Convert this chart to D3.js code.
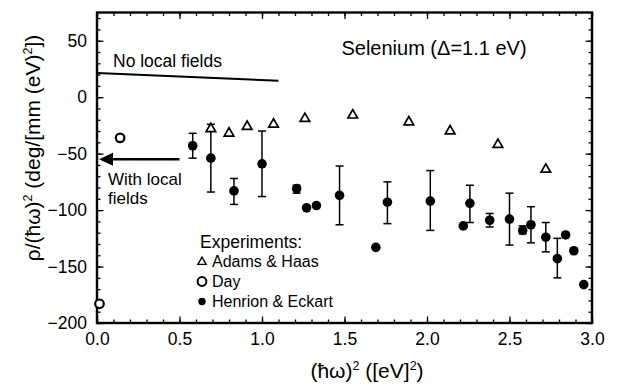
<!DOCTYPE html>
<html>
<head>
<meta charset="utf-8">
<script src="https://cdn.jsdelivr.net/npm/d3@7"></script>
<style>
  body { margin: 0; background: #fff; }
  svg { font-family: "Liberation Sans", Arial, Helvetica, sans-serif; }
</style>
</head>
<body>
<div id="chart"></div>
<script>
// Adams & Haas (open triangles)
const adamsX = [0.69, 0.80, 0.91, 1.07, 1.26, 1.55, 1.89, 2.14, 2.43, 2.72];
const adamsY = [-28, -32, -26, -24, -19, -16, -22, -30, -42, -64];

// Day (open circles)
const dayX = [0.14, 0.015];
const dayY = [-36, -183];

// Henrion & Eckart (filled circles, optional error bars)
const henX  = [0.58, 0.69, 0.83, 1.00, 1.21, 1.27, 1.33, 1.47, 1.69, 1.76, 2.02, 2.22, 2.26, 2.38, 2.50, 2.58, 2.63, 2.72, 2.79, 2.84, 2.89, 2.95];
const henY  = [-43, -54, -83, -59, -81, -98, -96, -87, -133, -93, -92, -114, -94, -109, -108, -118, -113, -124, -143, -122, -136, -166];
const henLo = [-54, -84, -95, -88, -85, null, null, -113, null, -112, -118, null, -111, -115, -131, -121, -129, -137, -160, null, null, null];
const henHi = [-32, -24, -72, -30, -78, null, null, -61, null, -75, -65, null, -78, -103, -85, -114, -97, -111, -125, null, null, null];

// theory lines
const noLocalX = [0, 1.1];
const noLocalY = [21.5, 14.5];
const withLocalX = [0.5, 0];
const withLocalY = [-55, -55];

const xTicks = [0, 0.5, 1, 1.5, 2, 2.5, 3];
const yTicks = [-200, -150, -100, -50, 0, 50];

const width = 618, height = 387;
const margin = {top: 12.5, right: 26, bottom: 64, left: 97};

const svg = d3.select('#chart').append('svg')
  .attr('width', width)
  .attr('height', height);

const x = d3.scaleLinear().domain([0, 3]).range([margin.left, width - margin.right]);
const y = d3.scaleLinear().domain([-200, 75]).range([height - margin.bottom, margin.top]);

const fmtX = d3.format('.1f');

// minor ticks
const minorX = d3.range(0, 30.5, 1).map(d => d / 10);
const minorY = d3.range(-200, 76, 10);

function axisGroup(axis, tx, ty) {
  const g = svg.append('g').attr('transform', `translate(${tx},${ty})`).call(axis);
  g.select('.domain').remove();
  g.selectAll('line').attr('stroke', '#000').attr('stroke-width', 1.3);
  return g;
}

const plotBottom = y.range()[0], plotTop = y.range()[1];
const plotLeft = x.range()[0], plotRight = x.range()[1];

// bottom
axisGroup(d3.axisBottom(x).tickValues(minorX).tickSize(-3.5).tickFormat(''), 0, plotBottom);
const bx = axisGroup(d3.axisBottom(x).tickValues(xTicks).tickSize(-6.5).tickPadding(10).tickFormat(fmtX), 0, plotBottom);
// top
axisGroup(d3.axisTop(x).tickValues(minorX).tickSize(-3.5).tickFormat(''), 0, plotTop);
axisGroup(d3.axisTop(x).tickValues(xTicks).tickSize(-6.5).tickFormat(''), 0, plotTop);
// left
axisGroup(d3.axisLeft(y).tickValues(minorY).tickSize(-3.5).tickFormat(''), plotLeft, 0);
const ly = axisGroup(d3.axisLeft(y).tickValues(yTicks).tickSize(-6.5).tickPadding(10), plotLeft, 0);
// right
axisGroup(d3.axisRight(y).tickValues(minorY).tickSize(-3.5).tickFormat(''), plotRight, 0);
axisGroup(d3.axisRight(y).tickValues(yTicks).tickSize(-6.5).tickFormat(''), plotRight, 0);

[bx, ly].forEach(g => g.selectAll('text')
  .attr('fill', '#000')
  .style('font-size', '17.5px')
  .style('font-family', '"Liberation Sans", Arial, sans-serif'));

// frame
svg.append('rect')
  .attr('x', plotLeft).attr('y', plotTop)
  .attr('width', plotRight - plotLeft).attr('height', plotBottom - plotTop)
  .attr('fill', 'none').attr('stroke', '#000').attr('stroke-width', 2.4);

// no local fields line
svg.append('line')
  .attr('x1', x(noLocalX[0])).attr('y1', y(noLocalY[0]))
  .attr('x2', x(noLocalX[1])).attr('y2', y(noLocalY[1]))
  .attr('stroke', '#000').attr('stroke-width', 2);

// with local fields arrow
svg.append('line')
  .attr('x1', x(withLocalX[0])).attr('y1', y(withLocalY[0]))
  .attr('x2', x(withLocalX[1]) + 12).attr('y2', y(withLocalY[1]))
  .attr('stroke', '#000').attr('stroke-width', 2.5);
svg.append('path')
  .attr('d', `M${x(withLocalX[1]) + 2},${y(withLocalY[1])} l14,-6.5 l0,13 Z`)
  .attr('fill', '#000');

// error bars
const hen = henX.map((d, i) => ({x: d, y: henY[i], lo: henLo[i], hi: henHi[i]}));
const eb = svg.append('g').attr('stroke', '#000').attr('stroke-width', 1.5);
hen.filter(d => d.lo !== null).forEach(d => {
  const cx = x(d.x);
  eb.append('line').attr('x1', cx).attr('x2', cx).attr('y1', y(d.lo)).attr('y2', y(d.hi));
  eb.append('line').attr('x1', cx - 4).attr('x2', cx + 4).attr('y1', y(d.lo)).attr('y2', y(d.lo));
  eb.append('line').attr('x1', cx - 4).attr('x2', cx + 4).attr('y1', y(d.hi)).attr('y2', y(d.hi));
});

svg.append('g').selectAll('circle')
  .data(hen)
  .enter().append('circle')
  .attr('cx', d => x(d.x))
  .attr('cy', d => y(d.y))
  .attr('r', 4.8)
  .attr('fill', '#000');

// Day
svg.append('g').selectAll('circle')
  .data(dayX.map((d, i) => ({x: d, y: dayY[i]})))
  .enter().append('circle')
  .attr('cx', d => x(d.x))
  .attr('cy', d => y(d.y))
  .attr('r', 4.3)
  .attr('fill', '#fff')
  .attr('stroke', '#000')
  .attr('stroke-width', 2.2);

// Adams & Haas
const tri = d3.symbol().type(d3.symbolTriangle).size(40);
svg.append('g').selectAll('path')
  .data(adamsX.map((d, i) => ({x: d, y: adamsY[i]})))
  .enter().append('path')
  .attr('d', tri)
  .attr('transform', d => `translate(${x(d.x)},${y(d.y)})`)
  .attr('fill', '#fff')
  .attr('stroke', '#000')
  .attr('stroke-width', 1.7);

// annotations
const txt = (tx, ty, s, size, anchor) => svg.append('text')
  .attr('x', tx).attr('y', ty)
  .attr('text-anchor', anchor || 'start')
  .style('font-size', size + 'px')
  .text(s);

txt(434, 55, 'Selenium (\u0394=1.1 eV)', 20, 'middle');
txt(113, 66.5, 'No local fields', 17.5);
txt(108, 184.5, 'With local', 17);
txt(108, 204, 'fields', 17);

// legend
txt(200, 248, 'Experiments:', 17.5);
txt(212, 267, 'Adams & Haas', 16);
txt(212, 287, 'Day', 16);
txt(212, 307, 'Henrion & Eckart', 16);
svg.append('path')
  .attr('d', d3.symbol().type(d3.symbolTriangle).size(30))
  .attr('transform', 'translate(202,262)')
  .attr('fill', '#fff').attr('stroke', '#000').attr('stroke-width', 1.4);
svg.append('circle').attr('cx', 202).attr('cy', 281.5).attr('r', 4.4)
  .attr('fill', '#fff').attr('stroke', '#000').attr('stroke-width', 2);
svg.append('circle').attr('cx', 202).attr('cy', 301.5).attr('r', 3.7).attr('fill', '#000');

// axis titles
const xl = svg.append('text')
  .attr('x', 367).attr('y', 378)
  .attr('text-anchor', 'middle')
  .style('font-size', '21px');
xl.append('tspan').text('(\u0127\u03c9)');
xl.append('tspan').attr('dy', -8).style('font-size', '12.5px').text('2');
xl.append('tspan').attr('dy', 8).text(' ([eV]');
xl.append('tspan').attr('dy', -8).style('font-size', '12.5px').text('2');
xl.append('tspan').attr('dy', 8).text(')');

const yl = svg.append('text')
  .attr('transform', 'translate(40,148) rotate(-90)')
  .attr('text-anchor', 'middle')
  .style('font-size', '21px');
yl.append('tspan').text('\u03c1/(\u0127\u03c9)');
yl.append('tspan').attr('dy', -8).style('font-size', '12.5px').text('2');
yl.append('tspan').attr('dy', 8).text(' (deg/[mm (eV)');
yl.append('tspan').attr('dy', -8).style('font-size', '12.5px').text('2');
yl.append('tspan').attr('dy', 8).text('])');
</script>
</body>
</html>
